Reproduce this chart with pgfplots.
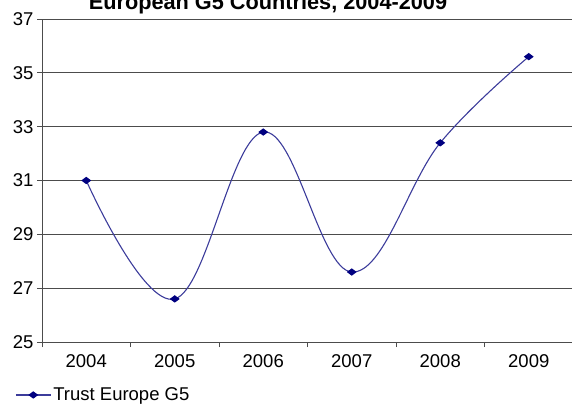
\documentclass[border=0pt]{standalone}
\usepackage{pgfplots}
\pgfplotsset{compat=1.18}
\usepackage{fontspec}
\setmainfont{Liberation Sans}
\definecolor{navy}{RGB}{0,0,128}
\definecolor{linec}{RGB}{60,60,155}
\begin{document}
\begin{tikzpicture}
\useasboundingbox (0,0) rectangle (572pt,404pt);
\clip (0,0) rectangle (572pt,404pt);
\node[anchor=base, font=\fontsize{21.7}{26}\selectfont\bfseries, inner sep=0pt] at (268pt,394.5pt) {European G5 Countries, 2004-2009};
\begin{axis}[
  at={(42pt,62pt)}, anchor=south west,
  scale only axis, width=531pt, height=323pt,
  xmin=-0.5, xmax=5.5, ymin=25, ymax=37,
  xtick={0,1,2,3,4,5}, xticklabels={2004,2005,2006,2007,2008,2009},
  minor xtick={-0.5,0.5,1.5,2.5,3.5,4.5,5.5},
  ytick={25,27,29,31,33,35,37},
  axis x line=bottom, axis y line=left,
  axis line style={-, black!70, line width=0.9pt},
  tick align=outside,
  major tick length=5pt, minor tick length=5pt,
  major x tick style={draw=none},
  minor x tick style={black!70, line width=0.9pt},
  major y tick style={black!70, line width=0.9pt},
  ymajorgrids,
  major grid style={black!70, line width=0.9pt},
  tick label style={font=\fontsize{18.5}{22}\selectfont},
  xticklabel style={yshift=-4pt},
  /pgf/number format/assume math mode=true,
  legend style={at={(axis description cs:-0.0508,-0.164)}, anchor=west, draw=none, fill=none,
    font=\fontsize{18.5}{22}\selectfont, inner sep=0pt},
  legend cell align=left,
  legend image code/.code={\draw[mark repeat=2,mark phase=2,#1] plot coordinates {(0pt,0pt) (17.5pt,0pt) (35pt,0pt)};},
  clip=false,
]
\addplot[linec, line width=1.1pt, smooth, tension=0.65, mark=diamond*, mark size=3pt,
  mark options={navy, fill=navy, xscale=1.8, solid}]
  coordinates {(0,31.0)(1,26.6)(2,32.8)(3,27.6)(4,32.4)(5,35.6)};
\addlegendentry{Trust Europe G5}
\end{axis}
\end{tikzpicture}
\end{document}
